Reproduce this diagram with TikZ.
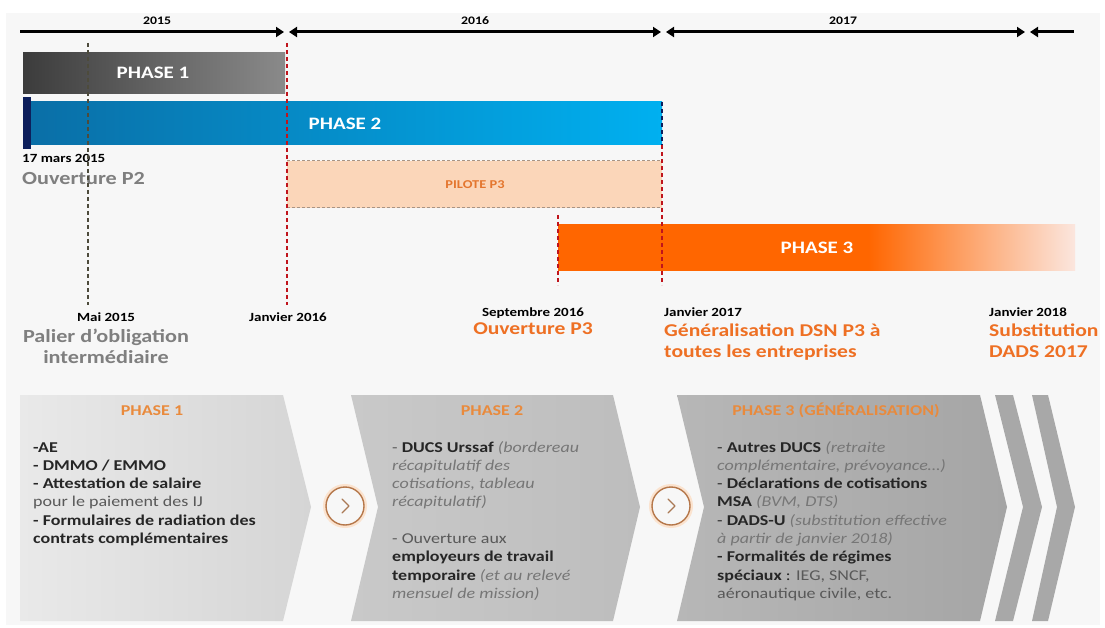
\documentclass[tikz,border=0pt]{standalone}
\usepackage{fontspec}
\setmainfont{Carlito}[FakeStretch=1.2]
\usetikzlibrary{arrows.meta}
\definecolor{panel}{HTML}{F7F7F7}
\definecolor{pOneL}{HTML}{3C3C3C}
\definecolor{pOneR}{HTML}{8A8A8A}
\definecolor{pTwoL}{HTML}{0A6EA6}
\definecolor{pTwoR}{HTML}{00B0F0}
\definecolor{navyb}{HTML}{0D1F5C}
\definecolor{peach}{HTML}{FBD6B9}
\definecolor{pilotborder}{HTML}{A89484}
\definecolor{oranb}{HTML}{FF6600}
\definecolor{fadeor}{HTML}{FBE6DE}
\definecolor{redd}{HTML}{C0141C}
\definecolor{olive}{HTML}{4D4B3C}
\definecolor{grayhead}{HTML}{7F7F7F}
\definecolor{orhead}{HTML}{EE7024}
\definecolor{chhead}{HTML}{E98A3C}
\definecolor{pilottxt}{HTML}{E4762E}
\definecolor{bodyk}{HTML}{262626}
\definecolor{bodyg}{HTML}{595959}
\definecolor{bodyi}{HTML}{767676}
\definecolor{circbrown}{HTML}{B5774A}
\definecolor{circglow}{HTML}{FBE3CF}
\definecolor{chOneL}{HTML}{E9E9E9}
\definecolor{chOneR}{HTML}{D5D5D5}
\definecolor{chTwoL}{HTML}{C9C9C9}
\definecolor{chTwoR}{HTML}{BDBDBD}
\definecolor{chThrL}{HTML}{B7B7B7}
\definecolor{chThrR}{HTML}{A5A5A5}
\definecolor{thinchev}{HTML}{A8A8A8}
\pgfdeclarehorizontalshading{phthree}{100bp}{color(0bp)=(oranb); color(25bp)=(oranb); color(55bp)=(oranb); color(64bp)=(oranb!55!fadeor); color(75bp)=(fadeor); color(100bp)=(fadeor)}
\newcommand{\itg}[1]{\textcolor{bodyi}{\itshape #1}}
\newcommand{\rgg}[1]{\textcolor{bodyg}{#1}}
\tikzset{
  yr/.style={font=\bfseries\fontsize{11.5}{13}\selectfont, inner sep=0},
  tl/.style={line width=3pt, black},
  yrtip/.tip={Triangle[length=8pt,width=10pt]},
  bartxt/.style={text=white, font=\bfseries\fontsize{17.5}{20}\selectfont, inner sep=0},
  pilot/.style={text=pilottxt, font=\bfseries\fontsize{12}{14}\selectfont, inner sep=0},
  dte/.style={font=\bfseries\fontsize{12.5}{14}\selectfont, inner sep=0, text=black},
  ghead/.style={text=grayhead, font=\bfseries\fontsize{18.5}{21}\selectfont, inner sep=0},
  ohead/.style={text=orhead, font=\bfseries\fontsize{18}{21}\selectfont, inner sep=0},
  chead/.style={text=chhead, font=\bfseries\fontsize{15}{18}\selectfont, inner sep=0},
  body/.style={align=left, inner sep=0, font=\fontsize{15}{18.3}\selectfont, text=bodyk, anchor=base west},
  vdash/.style={line width=1.8pt, dash pattern=on 4pt off 3pt},
  circ/.style={circle, minimum size=38pt, inner sep=0, draw=circbrown, line width=1.4pt, fill=panel,
    preaction={draw=circglow, line width=6pt}},
  chv/.style={line width=1.3pt, draw=circbrown!80!gray, line cap=round, line join=round},
}
\begin{document}
\begin{tikzpicture}[x=1pt,y=-1pt]
\useasboundingbox (0,0) rectangle (1105,628);
\fill[white] (0,0) rectangle (1105,628);
\fill[panel] (6,13) rectangle (1100,625);

% timeline
\coordinate (t0) at (20,32);
\coordinate (t1) at (284,32);
\coordinate (t2) at (289,32);
\coordinate (t3) at (661,32);
\coordinate (t4) at (666,32);
\coordinate (t5) at (1025,32);
\coordinate (t6) at (1030,32);
\coordinate (t7) at (1074,32);
\draw[tl,-{yrtip}] (t0) -- (t1);
\draw[tl,{yrtip}-{yrtip}] (t2) -- (t3);
\draw[tl,{yrtip}-{yrtip}] (t4) -- (t5);
\draw[tl,{yrtip}-] (t6) -- (t7);
\node[yr] (y15) at (157,21) {2015};
\node[yr] (y16) at (475,21) {2016};
\node[yr] (y17) at (843,21) {2017};

% bars
\shade[left color=pOneL, right color=pOneR] (23,53) rectangle (285,94);
\node[bartxt] (p1) at (153,73) {PHASE 1};
\shade[left color=pTwoL, right color=pTwoR] (23,102) rectangle (662,145);
\fill[navyb] (23,97) rectangle (31,149);
\node[bartxt] (p2) at (345,124) {PHASE 2};

\fill[peach] (287,161) rectangle (662,208);
\draw[pilotborder, line width=1pt, dash pattern=on 3pt off 2pt] (287,161) -- (662,161) (287,208) -- (662,208);
\node[pilot] (pp3) at (475,185) {PILOTE P3};

\shade[shading=phthree] (558,225) rectangle (1075,271);
\node[bartxt] (p3) at (817,248) {PHASE 3};

% labels
\node[dte, anchor=base west] (d1) at (22,163) {17 mars 2015};
\node[ghead, anchor=base west] (o2) at (22,185) {Ouverture P2};

\node[dte, anchor=base] (d2) at (106,321) {Mai 2015};
\node[ghead, anchor=base] (g1) at (106,342) {Palier d’obligation};
\node[ghead, anchor=base] (g2) at (106,363) {intermédiaire};

\node[dte, anchor=base] (d3) at (288,321) {Janvier 2016};

\node[dte, anchor=base] (d4) at (533,316) {Septembre 2016};
\node[ohead, anchor=base] (o3) at (533,334) {Ouverture P3};

\node[dte, anchor=base west] (d5) at (664,316) {Janvier 2017};
\node[ohead, anchor=base west] (g3) at (664,336) {Généralisation DSN P3 à};
\node[ohead, anchor=base west] (g4) at (664,357) {toutes les entreprises};

\node[dte, anchor=base west] (d6) at (989,316) {Janvier 2018};
\node[ohead, anchor=base west] (s1) at (989,336) {Substitution};
\node[ohead, anchor=base west] (s2) at (989,357) {DADS 2017};

% dashed markers
\draw[vdash, olive] (88,43) -- (88,305);
\draw[vdash, redd] (287,43) -- (287,305);
\draw[vdash, redd] (558,215) -- (558,285);
\draw[vdash, redd] (662,145) -- (662,285);
\draw[vdash, navyb] (662,102) -- (662,145);

% chevrons
\shade[left color=chOneL, right color=chOneR] (20,395) -- (283,395) -- (311,507) -- (283,621) -- (20,621) -- cycle;
\shade[left color=chTwoL, right color=chTwoR] (351,395) -- (613,395) -- (640,507) -- (613,621) -- (351,621) -- (378,507) -- cycle;
\shade[left color=chThrL, right color=chThrR] (677,395) -- (980,395) -- (1007,507) -- (980,621) -- (677,621) -- (704,507) -- cycle;
\fill[thinchev] (995,395) -- (1013,395) -- (1042,507) -- (1013,621) -- (995,621) -- (1023,507) -- cycle;
\fill[thinchev] (1032,395) -- (1048,395) -- (1075,507) -- (1048,621) -- (1032,621) -- (1057,507) -- cycle;

\node[circ] (c1) at (345,506) {};
\draw[chv] (c1.center) ++(-3,-7) -- ++(7,7) -- ++(-7,7);
\node[circ] (c2) at (671,506) {};
\draw[chv] (c2.center) ++(-3,-7) -- ++(7,7) -- ++(-7,7);

\node[chead, anchor=base] (h1) at (152,415) {PHASE 1};
\node[chead, anchor=base] (h2) at (492,415) {PHASE 2};
\node[chead, anchor=base] (h3) at (836,415) {PHASE 3 (GÉNÉRALISATION)};

% multi-line nodes: base anchor = baseline of last line
\node[body] (tx1) at (33,543.5) {\textbf{-AE}\\ \textbf{- DMMO / EMMO}\\ \textbf{- Attestation de salaire}\\ \rgg{pour le paiement des IJ}\\ \textbf{- Formulaires de radiation des}\\ \textbf{contrats complémentaires}};

\node[body] (tx2) at (392,598.4) {\rgg{-} \textbf{DUCS Urssaf} \itg{(bordereau}\\ \itg{récapitulatif des}\\ \itg{cotisations, tableau}\\ \itg{récapitulatif)}\\[18.3pt] \rgg{- Ouverture aux}\\ \textbf{employeurs de travail}\\ \textbf{temporaire} \itg{(et au relevé}\\ \itg{mensuel de mission)}};

\node[body] (tx3) at (717,598.4) {- \textbf{Autres DUCS} \itg{(retraite}\\ \itg{complémentaire, prévoyance…)}\\ - \textbf{Déclarations de cotisations}\\ \textbf{MSA} \itg{(BVM, DTS)}\\ - \textbf{DADS-U} \itg{(substitution effective}\\ \itg{à partir de janvier 2018)}\\ \textbf{- Formalités de régimes}\\ \textbf{spéciaux} : \rgg{IEG, SNCF,}\\ \rgg{aéronautique civile, etc.}};
\end{tikzpicture}
\end{document}
